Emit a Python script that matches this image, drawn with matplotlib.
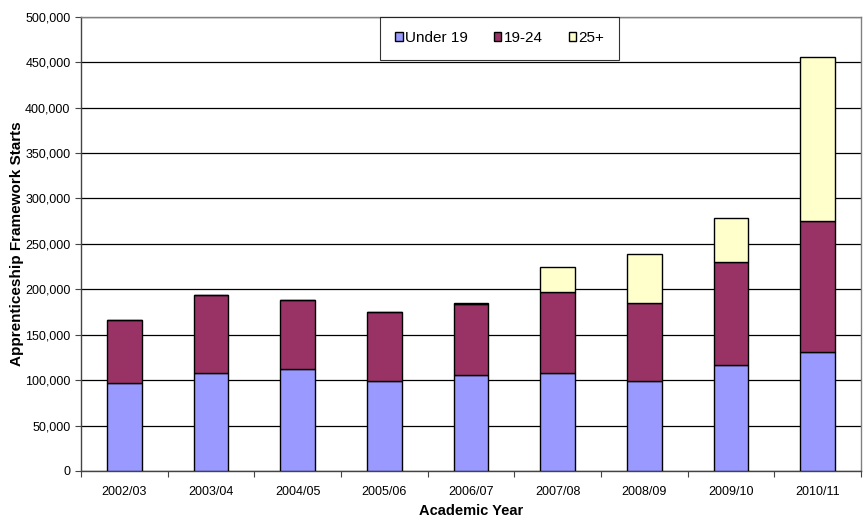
import numpy as np
import matplotlib.pyplot as plt
from matplotlib.ticker import FuncFormatter

plt.rcParams['font.family'] = ['Liberation Sans', 'DejaVu Sans']

# apprenticeship starts by age group, per academic year
years = ['2002/03', '2003/04', '2004/05', '2005/06', '2006/07',
         '2007/08', '2008/09', '2009/10', '2010/11']
under_19 = [96700, 108000, 112800, 99300, 105100, 107300, 98900, 116500, 131100]
age_19_24 = [70000, 85400, 74900, 75400, 78400, 89700, 85700, 113500, 143600]
age_25_plus = [0, 0, 1000, 0, 1000, 27500, 54600, 48800, 181300]

fig = plt.figure(figsize=(8.66, 5.26), dpi=100)
ax = fig.add_axes([0.0935, 0.1046, 0.9005, 0.8636])

x = np.arange(len(years))
w = 0.40
u = np.array(under_19)
m = np.array(age_19_24)
o = np.array(age_25_plus)

ax.bar(x, u, w, color='#9999FF', edgecolor='black', linewidth=1, label='Under 19', zorder=3)
ax.bar(x, m, w, bottom=u, color='#993366', edgecolor='black', linewidth=1, label='19-24', zorder=3)
ax.bar(x, o, w, bottom=u + m, color='#FFFFCC', edgecolor='black', linewidth=1, label='25+', zorder=3)

ax.set_ylim(0, 500000)
ax.set_yticks(np.arange(0, 500001, 50000))
ax.yaxis.set_major_formatter(FuncFormatter(lambda v, p: f'{int(v):,}'))
ax.grid(axis='y', color='black', linewidth=0.9, zorder=0)

# ticks between categories, labels in the middle
ax.set_xlim(-0.5, len(years) - 0.5)
ax.set_xticks(np.arange(-0.5, len(years)))
ax.set_xticklabels([])
ax.set_xticks(x, minor=True)
ax.set_xticklabels(years, minor=True)
ax.tick_params(axis='x', which='minor', length=0, pad=11, labelsize=9)
ax.tick_params(axis='x', which='major', length=4, direction='out', color='#444444')
ax.tick_params(axis='y', length=4, direction='out', labelsize=9, color='#444444')

for s in ax.spines.values():
    s.set_color('#808080')
    s.set_linewidth(1)
ax.spines['left'].set_color('#444444')
ax.spines['bottom'].set_color('#444444')

ax.set_xlabel('Academic Year', fontsize=10.5, fontweight='bold', labelpad=4)
ax.set_ylabel('Apprenticeship Framework Starts', fontsize=11, fontweight='bold', labelpad=1)

leg = ax.legend(loc='upper center', ncol=3, fontsize=11, frameon=True, fancybox=False,
                edgecolor='black', handlelength=0.5, handleheight=0.5, handletextpad=0.15,
                columnspacing=1.7, borderpad=0.95, borderaxespad=0,
                bbox_to_anchor=(0.537, 1.0))
leg.get_frame().set_linewidth(0.8)

fig.savefig('out.png', dpi=100)
